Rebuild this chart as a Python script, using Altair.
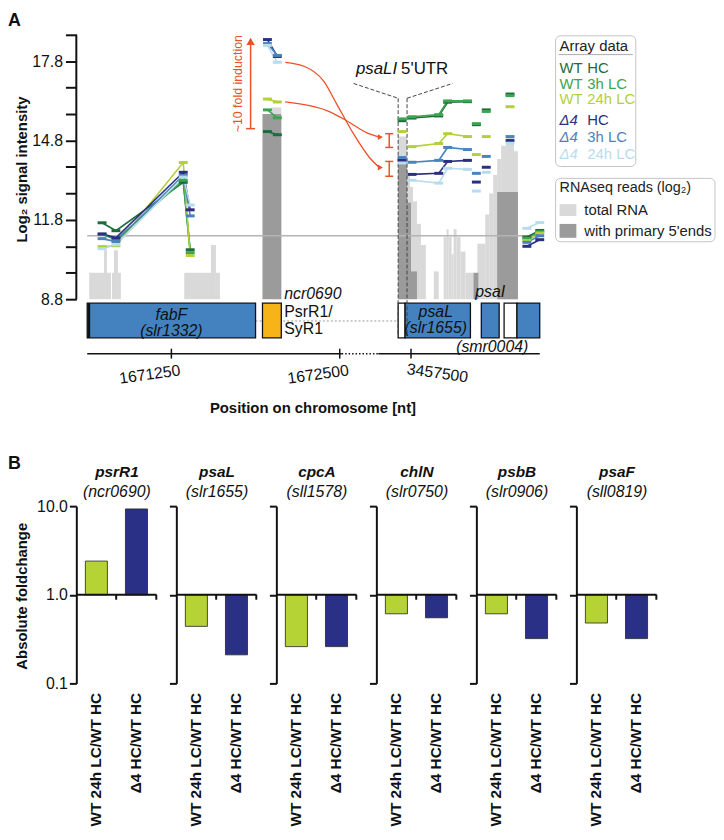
import altair as alt
import pandas as pd

FONT = "Liberation Sans"
RED = "#ef4f2a"
BLACK = "#111111"

# ================= Panel A values =================
series_names = ["WT HC", "WT 3h LC", "WT 24h LC", "Δ4 HC", "Δ4 3h LC", "Δ4 24h LC"]
series_colors = ["#1e6b3c", "#3aa650", "#b3cf3a", "#2a2f80", "#4a82bd", "#b8dcef"]

# probe positions along the (broken) genome track and contiguous probe groups
probe_pos = [26, 40, 108, 115, 193, 203, 329, 339, 366, 375, 395, 404, 414, 438, 455, 468]
probe_group = [1, 1, 1, 1, 2, 2, 3, 4, 4, 4, 4, 5, 6, 7, 8, 8]

sig_wt_hc = [11.69, 11.39, 13.22, 10.67, 15.14, 15.02, 15.55, 15.65, 15.73, 16.25, 16.27, 15.40, 15.96, 16.56, 11.15, 11.40]
sig_wt_3h = [11.25, 11.05, 13.30, 10.56, 15.96, 15.66, 15.62, 15.70, 15.78, 16.30, 16.30, 15.44, 15.90, 16.50, 11.10, 11.35]
sig_wt_24h = [10.79, 10.82, 13.97, 10.45, 16.37, 16.26, 15.14, 14.57, 14.69, 15.06, 14.95, 14.27, 14.95, 16.08, 11.02, 11.30]
sig_d4_hc = [11.27, 11.12, 13.60, 12.18, 18.62, 17.98, 14.05, 13.52, 13.56, 14.01, 14.05, 13.23, 13.79, 14.80, 10.80, 11.05]
sig_d4_3h = [11.09, 10.98, 13.48, 11.95, 18.47, 18.02, 14.16, 13.98, 14.05, 14.54, 14.46, 13.56, 14.20, 14.95, 10.95, 11.20]
sig_d4_24h = [10.71, 10.86, 13.42, 12.36, 18.40, 17.76, 13.95, 13.30, 13.19, 13.75, 13.71, 12.89, 13.60, 14.70, 11.48, 11.70]
signals = [sig_wt_hc, sig_wt_3h, sig_wt_24h, sig_d4_hc, sig_d4_3h, sig_d4_24h]

# RNAseq read coverage (log2): (start, end, height)
total_rna = [(13, 28, 9.8), (28, 31, 10.65), (31, 35, 9.8), (36, 38, 9.8), (38, 42, 10.65), (42, 45, 9.8),
             (109, 136, 9.8), (136, 141, 10.85), (141, 145, 9.8), (197, 207, 16.05),
             (325, 334, 14.95), (334, 337, 13.55), (337, 340, 13.05), (340, 344, 12.5), (344, 348, 11.65),
             (348, 353, 10.85), (361, 366, 9.85), (371, 374, 11.15), (374, 376, 11.45), (376, 379, 11.15),
             (379, 381, 10.5), (381, 384, 11.45), (384, 388, 11.15), (388, 393, 10.6), (393, 401, 9.8),
             (405, 413, 10.9), (413, 417, 12.0), (417, 421, 12.8), (421, 425, 13.5), (425, 429, 14.1),
             (429, 434, 14.6), (434, 442, 15.0), (442, 446, 14.4)]
primary_5p = [(188, 207, 15.8), (325, 334, 13.98), (334, 338, 12.45), (338, 344, 9.85),
              (401, 406, 9.8), (425, 446, 12.85)]

# genes on the track: (name, start, end, kind)
genes = [("fabF", 11, 181, "CDS"), ("ncr0690", 188, 207, "sRNA"), ("psaL 5'UTR", 325, 332, "UTR"),
         ("psaL", 332, 398, "CDS"), ("psaI", 409, 427, "CDS"), ("UTR", 432, 445, "UTR"), ("next", 445, 468, "CDS")]

axis_tick_pos = [96, 266, 338]
axis_tick_lab = ["1671250", "1672500", "3457500"]

# ================= Panel B values =================
genes_b = ["psrR1", "psaL", "cpcA", "chlN", "psbB", "psaF"]
loci_b = ["ncr0690", "slr1655", "sll1578", "slr0750", "slr0906", "sll0819"]
comparisons = ["WT 24h LC/WT HC", "Δ4 HC/WT HC"]
fc_wt24 = [2.4, 0.44, 0.26, 0.61, 0.61, 0.48]
fc_d4 = [9.3, 0.21, 0.26, 0.55, 0.32, 0.32]
bar_colors = ["#b5d334", "#2b3087"]

# ================= Panel A =================
W_A, H_A = 468, 322
xs = alt.Scale(domain=[0, W_A], nice=False, zero=False)
ys = alt.Scale(domain=[6.74, 18.8], nice=False, zero=False)
ytick_values = [round(8.8 + i, 1) for i in range(11)]
yaxis = alt.Axis(values=ytick_values,
                 labelExpr="indexof(['8.8','11.8','14.8','17.8'], format(datum.value, '.1f')) >= 0 ? format(datum.value, '.1f') : ''",
                 tickSize=11, tickWidth=2, tickColor=BLACK, domain=False, grid=False,
                 labelFontSize=16, labelColor=BLACK, labelPadding=3, title=None)


def XA(f):
    return alt.X(f, scale=xs, axis=None)


def YA(f):
    return alt.Y(f, scale=ys, axis=yaxis)


def PY(f):
    return alt.Y(f, scale=None, axis=None)


one = pd.DataFrame({"a": [0]})
col_series = alt.Color("series:N", scale=alt.Scale(domain=series_names, range=series_colors), legend=None)

rows = []
for name, vals in zip(series_names, signals):
    for u, g, v in zip(probe_pos, probe_group, vals):
        rows.append({"series": name, "u": u, "grp": f"{name}-{g}", "val": v})
array_df = pd.DataFrame(rows)

tot_df = pd.DataFrame(total_rna, columns=["x0", "x1", "top"])
tot_df["base"] = 8.8
pri_df = pd.DataFrame(primary_5p, columns=["x0", "x1", "top"])
pri_df["base"] = 8.8
gene_df = pd.DataFrame(genes, columns=["name", "x0", "x1", "kind"])

layers = []
# y axis (with its line)
layers.append(alt.Chart(pd.DataFrame({"u": [0], "y0": [8.8], "y1": [18.8]})).mark_rule(
    color=BLACK, strokeWidth=2).encode(x=XA("u:Q"), y=YA("y0:Q"), y2="y1:Q"))
layers.append(alt.Chart(tot_df).mark_rect(color="#d9d9d9").encode(
    x=XA("x0:Q"), x2="x1:Q", y=YA("top:Q"), y2="base:Q"))
layers.append(alt.Chart(pri_df).mark_rect(color="#9b9b9b").encode(
    x=XA("x0:Q"), x2="x1:Q", y=YA("top:Q"), y2="base:Q"))
# background reference line
layers.append(alt.Chart(pd.DataFrame({"x0": [11], "x1": [468], "y": [11.2]})).mark_rule(
    color="#b4b4b4", strokeWidth=1.5).encode(x=XA("x0:Q"), x2="x1:Q", y=YA("y:Q")))
# chromosome line under the genes
layers.append(alt.Chart(pd.DataFrame({"x0": [181], "x1": [325]})).mark_rule(
    color="#9a9a9a", strokeWidth=1, strokeDash=[2, 2]).encode(x=XA("x0:Q"), x2="x1:Q", y=alt.value(289)))
# gene boxes
layers.append(alt.Chart(gene_df).mark_rect(stroke=BLACK, strokeWidth=1.3).encode(
    x=XA("x0:Q"), x2="x1:Q", y=alt.value(271), y2=alt.value(306),
    fill=alt.Fill("kind:N", scale=alt.Scale(domain=["CDS", "sRNA", "UTR"],
                                            range=["#4382bf", "#f7b418", "#ffffff"]), legend=None)))
layers.append(alt.Chart(pd.DataFrame({"x0": [11.5], "x1": [14]})).mark_rect(color=BLACK).encode(
    x=XA("x0:Q"), x2="x1:Q", y=alt.value(271), y2=alt.value(306)))
# gene labels
lab_c = pd.DataFrame({"t": ["fabF", "(slr1332)", "psaL", "(slr1655)", "psaI", "(smr0004)"],
                      "u": [96, 96, 363, 363, 418, 420], "py": [283, 299, 280, 296, 260, 315]})
layers.append(alt.Chart(lab_c).mark_text(fontSize=16, fontStyle="italic", color=BLACK, baseline="middle").encode(
    x=XA("u:Q"), y=PY("py:Q"), text="t:N"))
lab_l = pd.DataFrame({"t": ["ncr0690"], "u": [210], "py": [262]})
layers.append(alt.Chart(lab_l).mark_text(fontSize=16, fontStyle="italic", color=BLACK, align="left", baseline="middle").encode(
    x=XA("u:Q"), y=PY("py:Q"), text="t:N"))
lab_l2 = pd.DataFrame({"t": ["PsrR1/", "SyR1"], "u": [210, 210], "py": [280, 297]})
layers.append(alt.Chart(lab_l2).mark_text(fontSize=16, color=BLACK, align="left", baseline="middle").encode(
    x=XA("u:Q"), y=PY("py:Q"), text="t:N"))

# psaL/psaI 5'UTR bracket
layers.append(alt.Chart(pd.DataFrame({"u": [325, 334], "y0": [16.4, 16.4], "y1": [7.4, 7.4]})).mark_rule(
    color="#444", strokeWidth=1, strokeDash=[4, 2]).encode(x=XA("u:Q"), y=YA("y0:Q"), y2="y1:Q"))
layers.append(alt.Chart(pd.DataFrame({"x0": [280, 334], "x1": [325, 380], "y0": [16.96, 16.4], "y1": [16.4, 16.96]})).mark_rule(
    color="#444", strokeWidth=1, strokeDash=[4, 2]).encode(x=XA("x0:Q"), x2="x1:Q", y=YA("y0:Q"), y2="y1:Q"))
layers.append(alt.Chart(pd.DataFrame({"t": ["psaLI"], "u": [324], "y": [17.5]})).mark_text(
    fontSize=17, fontStyle="italic", color=BLACK, align="right", baseline="middle").encode(x=XA("u:Q"), y=YA("y:Q"), text="t:N"))
layers.append(alt.Chart(pd.DataFrame({"t": ["5'UTR"], "u": [328], "y": [17.5]})).mark_text(
    fontSize=17, color=BLACK, align="left", baseline="middle").encode(x=XA("u:Q"), y=YA("y:Q"), text="t:N"))

# red annotations
layers.append(alt.Chart(pd.DataFrame({"u": [176], "y0": [15.25], "y1": [18.5]})).mark_rule(
    color=RED, strokeWidth=1.5).encode(x=XA("u:Q"), y=YA("y0:Q"), y2="y1:Q"))
layers.append(alt.Chart(pd.DataFrame({"u": [176], "y": [18.55]})).mark_point(
    shape="triangle-up", filled=True, size=70, color=RED, opacity=1).encode(x=XA("u:Q"), y=YA("y:Q")))
layers.append(alt.Chart(pd.DataFrame({"x0": [171.5, 312, 312, 312, 312], "x1": [180.5, 320, 320, 320, 320],
                                      "y": [15.25, 15.06, 14.54, 14.01, 13.45]})).mark_rule(
    color=RED, strokeWidth=1.5).encode(x=XA("x0:Q"), x2="x1:Q", y=YA("y:Q")))
layers.append(alt.Chart(pd.DataFrame({"u": [316, 316], "y0": [15.06, 14.01], "y1": [14.54, 13.45]})).mark_rule(
    color=RED, strokeWidth=1.5).encode(x=XA("u:Q"), y=YA("y0:Q"), y2="y1:Q"))
layers.append(alt.Chart(pd.DataFrame({"t": ["~10 fold induction"], "u": [163], "y": [16.95]})).mark_text(
    fontSize=12.5, color=RED, angle=270, baseline="middle").encode(x=XA("u:Q"), y=YA("y:Q"), text="t:N"))
curve_df = pd.DataFrame({
    "c": ["a"] * 7 + ["b"] * 5,
    "u": [211, 230, 250, 263, 280, 296, 306, 211, 253, 273, 293, 306],
    "y": [17.76, 17.61, 17.04, 16.18, 15.05, 14.16, 13.78, 16.26, 15.93, 15.55, 15.1, 14.93],
})
layers.append(alt.Chart(curve_df).mark_line(color=RED, strokeWidth=1.3, interpolate="monotone").encode(
    x=XA("u:Q"), y=YA("y:Q"), detail="c:N", order="u:Q"))
layers.append(alt.Chart(pd.DataFrame({"u": [307, 307], "y": [13.78, 14.93]})).mark_point(
    shape="triangle-right", filled=True, size=35, color=RED, opacity=1).encode(x=XA("u:Q"), y=YA("y:Q")))

# array data lines + probe ticks
layers.append(alt.Chart(array_df).mark_line(strokeWidth=1.6).encode(
    x=XA("u:Q"), y=YA("val:Q"), color=col_series, detail="grp:N", order="u:Q"))
layers.append(alt.Chart(array_df).mark_rule(strokeWidth=3, xOffset=-4.5, x2Offset=4.5).encode(
    x=XA("u:Q"), x2="u:Q", y=YA("val:Q"), color=col_series))

# custom broken x axis
layers.append(alt.Chart(pd.DataFrame({"x0": [11, 305], "x1": [268, 468]})).mark_rule(
    color=BLACK, strokeWidth=1.5).encode(x=XA("x0:Q"), x2="x1:Q", y=alt.value(322)))
layers.append(alt.Chart(pd.DataFrame({"x0": [268], "x1": [305]})).mark_rule(
    color=BLACK, strokeWidth=1.5, strokeDash=[1.5, 2]).encode(x=XA("x0:Q"), x2="x1:Q", y=alt.value(322)))
tick_df = pd.DataFrame({"u": axis_tick_pos, "lab": axis_tick_lab})
layers.append(alt.Chart(tick_df).mark_rule(color=BLACK, strokeWidth=1.5).encode(
    x=XA("u:Q"), y=alt.value(317), y2=alt.value(327)))
layers.append(alt.Chart(tick_df.iloc[:2]).mark_text(fontSize=16, color=BLACK, angle=352, align="right",
                                                   baseline="top", dx=8).encode(x=XA("u:Q"), y=alt.value(332), text="lab:N"))
layers.append(alt.Chart(tick_df.iloc[2:]).mark_text(fontSize=16, color=BLACK, angle=8, align="left",
                                                   baseline="top", dx=-3).encode(x=XA("u:Q"), y=alt.value(330), text="lab:N"))

# titles
layers.append(alt.Chart(one).mark_text(fontSize=15, fontWeight="bold", color=BLACK, baseline="middle").encode(
    x=alt.value(239), y=alt.value(377), text=alt.value("Position on chromosome [nt]")))
layers.append(alt.Chart(one).mark_text(fontSize=15, fontWeight="bold", color=BLACK, angle=270, baseline="middle").encode(
    x=alt.value(-55), y=alt.value(136), text=alt.value("Log₂ signal intensity")))
layers.append(alt.Chart(one).mark_text(fontSize=18, fontWeight="bold", color=BLACK, align="left", baseline="top").encode(
    x=alt.value(-69), y=alt.value(-23), text=alt.value("A")))

# legends (drawn)
layers.append(alt.Chart(one).mark_rect(fill="white", stroke="#c4c4c4", strokeWidth=1, cornerRadius=5).encode(
    x=alt.value(484), x2=alt.value(565), y=alt.value(1), y2=alt.value(133)))
layers.append(alt.Chart(one).mark_text(fontSize=15, color="#222", align="left", baseline="middle").encode(
    x=alt.value(488), y=alt.value(11), text=alt.value("Array data")))
layers.append(alt.Chart(one).mark_rule(color="#aaa", strokeWidth=1).encode(
    x=alt.value(487), x2=alt.value(562), y=alt.value(20)))
leg_df = pd.DataFrame({"series": series_names, "py": [34, 50, 65, 86, 103, 120]})
leg_df["strain"] = leg_df["series"].str.split(" ", n=1).str[0]
leg_df["cond"] = leg_df["series"].str.split(" ", n=1).str[1]
layers.append(alt.Chart(leg_df.iloc[:3]).mark_text(fontSize=15, align="left", baseline="middle").encode(
    x=alt.value(488), y=PY("py:Q"), text="strain:N", color=col_series))
layers.append(alt.Chart(leg_df.iloc[3:]).mark_text(fontSize=15, fontStyle="italic", align="left", baseline="middle").encode(
    x=alt.value(488), y=PY("py:Q"), text="strain:N", color=col_series))
layers.append(alt.Chart(leg_df).mark_text(fontSize=15, align="left", baseline="middle").encode(
    x=alt.value(516), y=PY("py:Q"), text="cond:N", color=col_series))
layers.append(alt.Chart(one).mark_rect(fill="white", stroke="#c4c4c4", strokeWidth=1, cornerRadius=5).encode(
    x=alt.value(484), x2=alt.value(645), y=alt.value(145), y2=alt.value(209)))
layers.append(alt.Chart(one).mark_text(fontSize=14.5, color="#222", align="left", baseline="middle").encode(
    x=alt.value(488), y=alt.value(155), text=alt.value("RNAseq reads (log₂)")))
layers.append(alt.Chart(one).mark_rect(color="#d9d9d9").encode(
    x=alt.value(488), x2=alt.value(505), y=alt.value(171), y2=alt.value(183)))
layers.append(alt.Chart(one).mark_rect(color="#9b9b9b").encode(
    x=alt.value(488), x2=alt.value(505), y=alt.value(191), y2=alt.value(205)))
sw_df = pd.DataFrame({"k": ["total RNA", "with primary 5'ends"], "ym": [177, 198]})
layers.append(alt.Chart(sw_df).mark_text(fontSize=15, color="#222", align="left", baseline="middle").encode(
    x=alt.value(513), y=PY("ym:Q"), text="k:N"))

panelA = alt.layer(*layers).properties(width=W_A, height=H_A)

# ================= Panel B =================
W_B, H_B = 81, 179
XLAB = 15.5


def b_panel(i):
    df = pd.DataFrame({"comp": comparisons, "fc": [fc_wt24[i], fc_d4[i]]})
    df["base"] = 1.0
    xsb = alt.Scale(domain=comparisons, paddingInner=0.45, paddingOuter=0.225)
    ysb = alt.Scale(type="log", domain=[0.1, 10], nice=False)
    xax = alt.Axis(title=None, domain=False, ticks=False, labelAngle=270, labelAlign="right",
                   labelBaseline="middle", labelFontWeight="bold", labelFontSize=XLAB,
                   labelPadding=9, labelColor=BLACK, labelLimit=250)
    yax = alt.Axis(title=None, values=[0.1, 1, 10], format=".1f", labels=(i == 0), tickSize=7,
                   tickWidth=2, tickColor=BLACK, domainColor=BLACK, domainWidth=2, grid=False,
                   labelFontSize=16, labelColor=BLACK, labelPadding=2)
    ls = []
    ls.append(alt.Chart(df).mark_bar(stroke="#222", strokeWidth=0.8).encode(
        x=alt.X("comp:N", scale=xsb, axis=xax, sort=comparisons),
        y=alt.Y("fc:Q", scale=ysb, axis=yax), y2="base:Q",
        color=alt.Color("comp:N", scale=alt.Scale(domain=comparisons, range=bar_colors), legend=None)))
    ls.append(alt.Chart(df.iloc[:1]).mark_rule(color=BLACK, strokeWidth=2).encode(
        x=alt.value(0), x2=alt.value(W_B), y=alt.Y("base:Q", scale=ysb, axis=yax)))
    ls.append(alt.Chart(df).mark_rule(color=BLACK, strokeWidth=2, xOffset=20, y2Offset=5).encode(
        x=alt.X("comp:N", scale=xsb, axis=xax, sort=comparisons),
        y=alt.Y("base:Q", scale=ysb, axis=yax), y2="base:Q"))
    ls.append(alt.Chart(pd.DataFrame({"t": [genes_b[i]]})).mark_text(
        fontSize=15.5, fontWeight="bold", fontStyle="italic", color=BLACK, baseline="middle").encode(
        x=alt.value(41), y=alt.value(-34), text="t:N"))
    ls.append(alt.Chart(pd.DataFrame({"t": ["(" + loci_b[i] + ")"]})).mark_text(
        fontSize=16, fontStyle="italic", color=BLACK, baseline="middle").encode(
        x=alt.value(41), y=alt.value(-14), text="t:N"))
    if i == 0:
        ls.append(alt.Chart(one).mark_text(fontSize=15, fontWeight="bold", color=BLACK, angle=270,
                                           baseline="middle").encode(
            x=alt.value(-55), y=alt.value(91), text=alt.value("Absolute foldchange")))
        ls.append(alt.Chart(one).mark_text(fontSize=18, fontWeight="bold", color=BLACK, align="left",
                                           baseline="top").encode(
            x=alt.value(-69), y=alt.value(-52), text=alt.value("B")))
    return alt.layer(*ls).properties(width=W_B, height=H_B)


panelB = alt.hconcat(*[b_panel(i) for i in range(6)], spacing=20, bounds="flush")

chart = alt.vconcat(panelA, panelB, spacing=154, bounds="flush").properties(
    padding=0).resolve_scale(color="independent", fill="independent").configure(
    font=FONT).configure_view(stroke=None).configure_axisX(
    labelFontSize=XLAB, labelFontWeight="bold", labelLimit=250).configure_axisBand(
    labelFontSize=XLAB, labelFontWeight="bold", labelLimit=250).configure_axisY(labelFontSize=16)

chart.save("out.html", embed_options={"renderer": "svg", "actions": False})
